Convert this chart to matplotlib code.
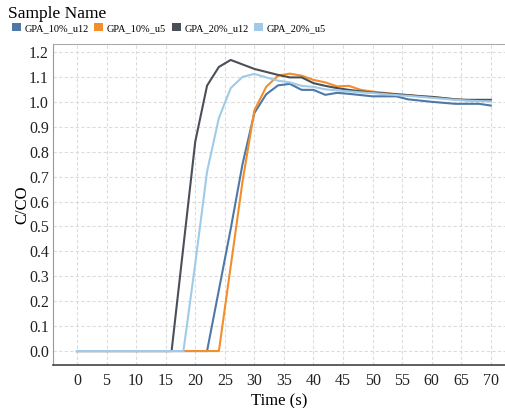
import matplotlib

matplotlib.use("Agg")
import matplotlib.pyplot as plt
from matplotlib.patches import Patch
import numpy as np

plt.rcParams["font.family"] = ["Liberation Serif", "DejaVu Serif"]

# 取樣時間 (s)，每 2 秒一點
time_s = np.arange(0, 72, 2)

names = ["GPA_10%_u12", "GPA_10%_u5", "GPA_20%_u12", "GPA_20%_u5"]
colors = ["#4e79a7", "#f28e2b", "#4b4f56", "#a0cbe8"]

gpa10_u12 = [0, 0, 0, 0, 0, 0, 0, 0, 0, 0, 0, 0,
             0.245, 0.49, 0.75, 0.955, 1.03, 1.066, 1.072, 1.048, 1.048, 1.028,
             1.036, 1.032, 1.027, 1.022, 1.022, 1.022, 1.01, 1.005, 1.0, 0.996,
             0.992, 0.992, 0.992, 0.985]
gpa10_u5 = [0, 0, 0, 0, 0, 0, 0, 0, 0, 0, 0, 0, 0,
            0.34, 0.68, 0.965, 1.06, 1.105, 1.113, 1.105, 1.088, 1.078,
            1.062, 1.064, 1.048, 1.041, 1.036, 1.031, 1.027, 1.022, 1.018, 1.015,
            1.01, 1.006, 1.005, 1.005]
gpa20_u12 = [0, 0, 0, 0, 0, 0, 0, 0, 0,
             0.42, 0.84, 1.065, 1.14, 1.168, 1.15, 1.132, 1.12, 1.108, 1.098,
             1.098, 1.075, 1.064, 1.055, 1.048, 1.042, 1.037, 1.034, 1.03, 1.027,
             1.023, 1.02, 1.015, 1.01, 1.008, 1.008, 1.008]
gpa20_u5 = [0, 0, 0, 0, 0, 0, 0, 0, 0, 0,
            0.35, 0.72, 0.935, 1.055, 1.1, 1.112, 1.098, 1.085, 1.078, 1.064,
            1.06, 1.05, 1.046, 1.042, 1.038, 1.035, 1.031, 1.027, 1.024, 1.02,
            1.016, 1.012, 1.008, 1.005, 1.003, 1.002]

series = [gpa10_u12, gpa10_u5, gpa20_u12, gpa20_u5]

fig = plt.figure(figsize=(5.05, 4.08), dpi=100)
ax = fig.add_axes([53 / 505, 1 - 365 / 408, 452 / 505, 321 / 408])

for name, vals, c in zip(names, series, colors):
    ax.plot(time_s, vals, color=c, lw=1.5, label=name)

ax.set_xlim(-4.06, 72.4)
ax.set_ylim(-0.056, 1.232)
ax.set_xticks(np.arange(0, 75, 5))
ax.set_yticks(np.arange(0, 1.25, 0.1))
ax.yaxis.set_major_formatter(matplotlib.ticker.FormatStrFormatter("%.1f"))
ax.tick_params(length=0, labelsize=11.5, colors="#222222")
ax.tick_params(axis="x", pad=6)
ax.tick_params(axis="y", pad=3)
ax.grid(True, color="#dcdcdc", lw=0.8, ls=(0, (3, 2)))
ax.set_axisbelow(True)

ax.spines["right"].set_visible(False)
ax.spines["top"].set_color("#aaaaaa")
ax.spines["left"].set_color("#999999")
ax.spines["bottom"].set_color("#444444")
ax.spines["bottom"].set_linewidth(1.2)

ax.set_xlabel("Time (s)", fontsize=12, labelpad=3)
ax.set_ylabel("C/CO", fontsize=12)
ax.yaxis.set_label_coords(-23 / 452, 0.5)

fig.text(8 / 505, 1 - 14 / 408, "Sample Name", fontsize=12.5, va="center", ha="left")
handles = [Patch(facecolor=c, edgecolor="none") for c in colors]
fig.legend(handles, names, loc="upper left", bbox_to_anchor=(12 / 505, 1 - 23 / 408),
           ncol=4, frameon=False, fontsize=7.5, handlelength=0.85, handleheight=0.85,
           handletextpad=0.35, columnspacing=0.55, borderaxespad=0, borderpad=0)

fig.savefig("out.png", dpi=100)
